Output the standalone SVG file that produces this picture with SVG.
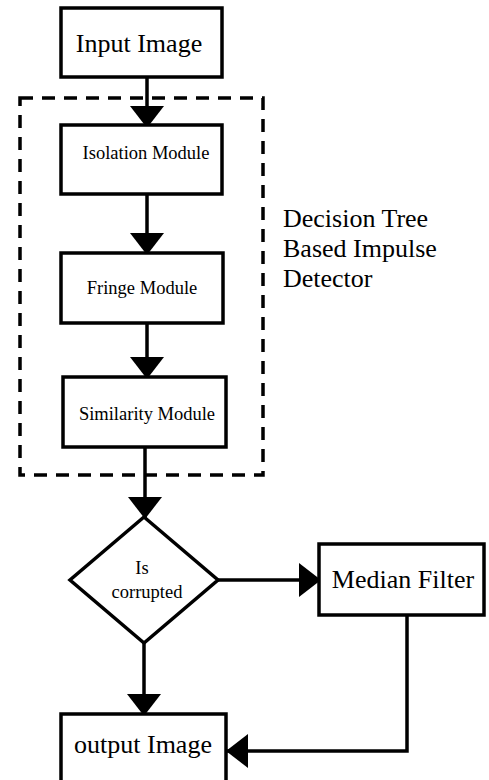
<svg xmlns="http://www.w3.org/2000/svg" width="489" height="780" viewBox="0 0 489 780">
<style>
.box{fill:#fff;stroke:#000;stroke-width:3.5}
.lbl{font-family:"Liberation Serif","Times New Roman",serif;fill:#000;text-anchor:middle}
.big{font-size:26px}
.small{font-size:18.5px}
.con{fill:none;stroke:#000;stroke-width:3.5}
.dash{fill:none;stroke:#000;stroke-width:3.5;stroke-dasharray:13 9}
</style>
<defs>
<marker id="ah" viewBox="0 0 22 34" refX="21" refY="17" markerWidth="22" markerHeight="34" markerUnits="userSpaceOnUse" orient="auto">
<path d="M0,0 L22,17 L0,34 Z" fill="#000"/>
</marker>
</defs>
<rect width="489" height="780" fill="#fff"/>
<g id="group-detector">
<rect class="dash" x="20" y="98" width="243" height="377"/>
<text class="lbl big" x="283" y="227" style="text-anchor:start">Decision Tree</text>
<text class="lbl big" x="283" y="257" style="text-anchor:start">Based Impulse</text>
<text class="lbl big" x="283" y="287" style="text-anchor:start">Detector</text>
</g>
<g id="connectors">
<line class="con" x1="147" y1="77" x2="147" y2="127" marker-end="url(#ah)"/>
<line class="con" x1="147" y1="194" x2="147" y2="254" marker-end="url(#ah)"/>
<line class="con" x1="147" y1="323" x2="147" y2="378" marker-end="url(#ah)"/>
<line class="con" x1="145" y1="447" x2="145" y2="518" marker-end="url(#ah)"/>
<line class="con" x1="218" y1="580" x2="320" y2="580" marker-end="url(#ah)"/>
<line class="con" x1="144" y1="643" x2="144" y2="715" marker-end="url(#ah)"/>
<polyline class="con" points="407,615 407,751 227,751" marker-end="url(#ah)"/>
</g>
<g id="input-image">
<rect class="box" x="61" y="8" width="161" height="69"/>
<text class="lbl big" x="139" y="52">Input Image</text>
</g>
<g id="isolation-module">
<rect class="box" x="61" y="125" width="161" height="69"/>
<text class="lbl small" x="146" y="159">Isolation Module</text>
</g>
<g id="fringe-module">
<rect class="box" x="61" y="253" width="162" height="70"/>
<text class="lbl small" x="142" y="294">Fringe Module</text>
</g>
<g id="similarity-module">
<rect class="box" x="63" y="377" width="163" height="70"/>
<text class="lbl small" x="147" y="420">Similarity Module</text>
</g>
<g id="is-corrupted">
<polygon class="box" points="144,517 218,580 144,643 70,580"/>
<text class="lbl small" x="142" y="574">Is</text>
<text class="lbl small" x="147" y="598">corrupted</text>
</g>
<g id="median-filter">
<rect class="box" x="319" y="544" width="165" height="71"/>
<text class="lbl big" x="403" y="588">Median Filter</text>
</g>
<g id="output-image">
<rect class="box" x="61" y="714" width="165" height="80"/>
<text class="lbl big" x="143" y="753">output Image</text>
</g>
</svg>
